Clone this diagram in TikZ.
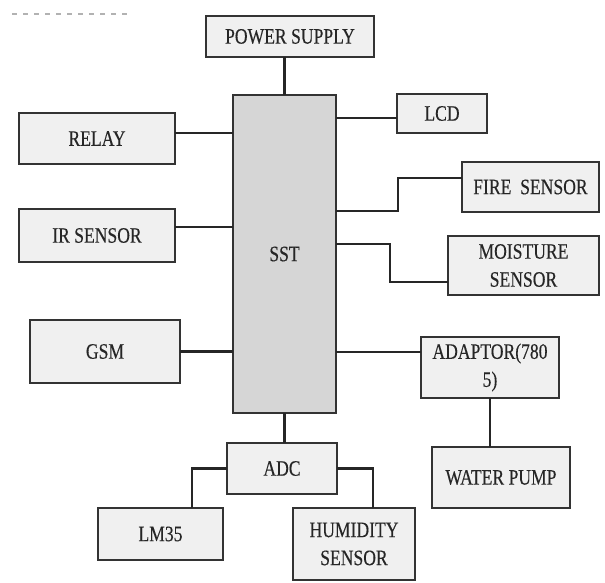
\documentclass[tikz,border=0pt]{standalone}
\usepackage{fontspec}
\setmainfont{Liberation Serif}[FakeStretch=0.8, FakeBold=0.3]
\begin{document}
\begin{tikzpicture}[x=1pt,y=-1pt,
  box/.style={draw=black!80, line width=2.6pt, fill=black!6, inner sep=0pt, outer sep=0pt,
    text=black!85, align=center, font=\fontsize{22}{28}\selectfont},
  mainbox/.style={box, fill=black!16},
  wire/.style={draw=black!85, line width=2.6pt}]
\useasboundingbox (0,0) rectangle (605,582);
\fill[white] (0,0) rectangle (605,582);
\draw[black!30, dash pattern=on 5pt off 6pt, line width=2pt] (12,14) -- (130,14);

\node[box, minimum width=168, minimum height=41] (ps) at (290,36.5) {POWER SUPPLY};
\node[mainbox, minimum width=103, minimum height=318] (sst) at (284.5,254) {SST};
\node[box, minimum width=156, minimum height=51] (relay) at (97,138.5) {RELAY};
\node[box, minimum width=90, minimum height=39] (lcd) at (442,113.5) {LCD};
\node[box, minimum width=137, minimum height=50] (fire) at (530.5,187) {FIRE\ \ SENSOR};
\node[box, minimum width=156, minimum height=53] (ir) at (97,235.5) {IR SENSOR};
\node[box, minimum width=151, minimum height=59] (moist) at (523.5,265.5) {MOISTURE\\SENSOR};
\node[box, minimum width=150, minimum height=63] (gsm) at (105,351.5) {GSM};
\node[box, minimum width=138, minimum height=61] (adaptor) at (490,367.5) {ADAPTOR(780\\5)};
\node[box, minimum width=138, minimum height=61] (wp) at (501,477.5) {WATER PUMP};
\node[box, minimum width=110, minimum height=51] (adc) at (282,468.5) {ADC};
\node[box, minimum width=125, minimum height=52] (lm35) at (160.5,534) {LM35};
\node[box, minimum width=122, minimum height=72] (hum) at (354,544) {HUMIDITY\\SENSOR};

\coordinate (f1) at (398,211);
\coordinate (m1) at (390,244);

\draw[wire] (sst.north) -- (sst.north |- ps.south);
\draw[wire] ([yshift=5.5pt]relay.east) -- ([yshift=5.5pt]relay.east -| sst.west);
\draw[wire] ([yshift=-4.5pt]lcd.west) -- ([yshift=-4.5pt]lcd.west -| sst.east);
\draw[wire] ([yshift=9pt]fire.west) -| (f1) -- (f1 -| sst.east);
\draw[wire] ([yshift=-16.5pt]moist.west) -| (m1) -- (m1 -| sst.east);
\draw[wire] ([yshift=8.5pt]ir.east) -- ([yshift=8.5pt]ir.east -| sst.west);
\draw[wire] (gsm.east) -- (gsm.east -| sst.west);
\draw[wire] ([yshift=15.5pt]adaptor.west) -- ([yshift=15.5pt]adaptor.west -| sst.east);
\draw[wire] (adaptor.south) -- (adaptor.south |- wp.north);
\draw[wire] (sst.south) -- (sst.south |- adc.north);
\draw[wire] (adc.west) -| ([xshift=31.5pt]lm35.north);
\draw[wire] (adc.east) -| ([xshift=19pt]hum.north);
\end{tikzpicture}
\end{document}
